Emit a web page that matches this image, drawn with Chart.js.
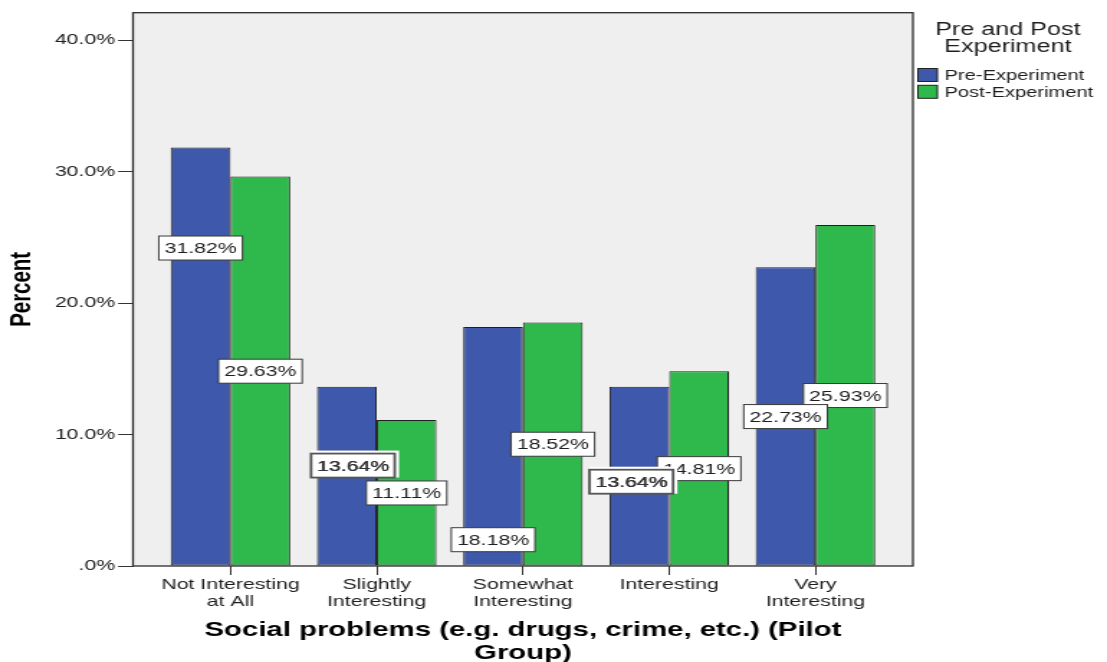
<!DOCTYPE html>
<html>
<head>
<meta charset="utf-8">
<script src="https://cdn.jsdelivr.net/npm/chart.js@4/dist/chart.umd.min.js"></script>
<style>
  html, body { margin: 0; padding: 0; background: #ffffff; overflow: hidden; }
  /* the chart is laid out on a narrower canvas and widened to the page width */
  #wrap { position: absolute; left: 0; top: 0; width: 770px; height: 662px;
          transform-origin: 0 0; transform: scaleX(1.43766); }
</style>
</head>
<body>
<div id="wrap"><canvas id="c" width="770" height="662"></canvas></div>
<script>
// ---- data ----
const categories = [
  ['Not Interesting', 'at All'],
  ['Slightly', 'Interesting'],
  ['Somewhat', 'Interesting'],
  ['Interesting'],
  ['Very', 'Interesting']
];
const seriesNames = ['Pre-Experiment', 'Post-Experiment'];
const preExperiment = [31.82, 13.64, 18.18, 13.64, 22.73];
const postExperiment = [29.63, 11.11, 18.52, 14.81, 25.93];
const yTickValues = [0, 10, 20, 30, 40];
const legendTitle = ['Pre and Post', 'Experiment'];
const xAxisTitle = ['Social problems (e.g. drugs, crime, etc.) (Pilot', 'Group)'];
const yAxisTitle = 'Percent';

// ---- presentation ----
const FONT = "'Liberation Sans', Arial, sans-serif";
const seriesColors = ['#3e58ac', '#2fb84b'];
// where each value box sits, as a fraction of its bar's height, and a small sideways nudge
const labelDepth = [[0.76, 0.56, 0.11, 0.47, 0.5], [0.5, 0.5, 0.5, 0.5, 0.5]];
const labelNudge = [[0, 4.2, 0, -5.6, 0], [0, 0, 0, 0, 0]];
// boxes that were moved to avoid a neighbour get a heavier frame and a white margin
const labelMoved = [[false, true, false, true, false], [false, false, false, false, false]];

const toPoints = vals => vals.map((v, i) => ({ x: i, y: v }));

const framePlugin = {
  id: 'frame',
  beforeDraw(chart) {
    const { ctx, chartArea: a } = chart;
    ctx.save();
    ctx.fillStyle = '#efefef';
    ctx.fillRect(a.left, a.top, a.right - a.left, a.bottom - a.top);
    ctx.restore();
  },
  afterDatasetsDraw(chart) {
    const { ctx, chartArea: a } = chart;
    const yScale = chart.scales.y;
    ctx.save();
    ctx.strokeStyle = '#2b2b2b';
    ctx.lineWidth = 1.3;
    ctx.strokeRect(a.left, a.top, a.right - a.left, a.bottom - a.top);

    // value boxes (post series first so the pre boxes lie on top)
    ctx.font = '14.8px ' + FONT;
    ctx.textAlign = 'center';
    ctx.textBaseline = 'middle';
    [1, 0].forEach(d => {
      const meta = chart.getDatasetMeta(d);
      const pts = chart.data.datasets[d].data;
      meta.data.forEach((bar, i) => {
        const v = pts[i].y;
        const txt = v.toFixed(2) + '%';
        const cx = bar.x + labelNudge[d][i];
        const cy = yScale.getPixelForValue(v * labelDepth[d][i]);
        const w = ctx.measureText(txt).width + 8;
        const h = 24;
        const x0 = cx - w / 2, y0 = cy - h / 2;
        const moved = labelMoved[d][i];
        if (moved) {
          ctx.fillStyle = '#ffffff';
          ctx.fillRect(x0, y0 - 3, w + 3, h + 3);
        }
        ctx.fillStyle = '#ffffff';
        ctx.fillRect(x0, y0, w, h);
        ctx.strokeStyle = moved ? '#555' : '#3a3a3a';
        ctx.lineWidth = moved ? 1.8 : 1;
        ctx.strokeRect(x0, y0, w, h);
        ctx.fillStyle = moved ? '#333' : '#1e1e1e';
        ctx.fillText(txt, cx, cy + 1);
        if (moved) ctx.fillText(txt, cx + 0.4, cy + 1.4);
      });
    });
    ctx.restore();
  },
  afterDraw(chart) {
    const { ctx } = chart;
    ctx.save();
    ctx.fillStyle = '#1e1e1e';
    ctx.textAlign = 'center';
    ctx.textBaseline = 'middle';
    ctx.font = '17.5px ' + FONT;
    legendTitle.forEach((t, i) => ctx.fillText(t, 701, 30 + i * 17));
    ctx.font = '14px ' + FONT;
    ctx.textAlign = 'left';
    seriesNames.forEach((name, i) => {
      const y = 75 + i * 16.8;
      ctx.fillStyle = seriesColors[i];
      ctx.fillRect(638.5, y - 6.5, 13.5, 13);
      ctx.strokeStyle = '#222';
      ctx.lineWidth = 1;
      ctx.strokeRect(638.5, y - 6.5, 13.5, 13);
      ctx.fillStyle = '#1e1e1e';
      ctx.fillText(name, 657, y + 1);
    });
    ctx.restore();
  }
};

new Chart(document.getElementById('c'), {
  type: 'bar',
  data: {
    datasets: [
      { label: seriesNames[0], data: toPoints(preExperiment), backgroundColor: seriesColors[0] },
      { label: seriesNames[1], data: toPoints(postExperiment), backgroundColor: seriesColors[1] }
    ]
  },
  options: {
    responsive: false,
    animation: false,
    events: [],
    layout: { padding: { left: 0, top: 12.7, right: 135, bottom: 0 } },
    datasets: {
      bar: {
        borderColor: '#1f1f1f',
        borderWidth: 1,
        borderSkipped: false,
        categoryPercentage: 0.817,
        barPercentage: 1.0
      }
    },
    plugins: { legend: { display: false }, tooltip: { enabled: false } },
    scales: {
      x: {
        type: 'linear',
        offset: false,
        min: -2 / 3,
        max: categories.length - 1 + 2 / 3,
        afterBuildTicks: s => { s.ticks = categories.map((_, i) => ({ value: i })); },
        afterFit: s => { s.height = 96; },
        grid: { offset: false, drawOnChartArea: false, drawTicks: true, tickLength: 9, color: '#333' },
        border: { display: false },
        ticks: {
          autoSkip: false, maxRotation: 0, padding: 2,
          font: { family: FONT, size: 14.8, lineHeight: 1.12 }, color: '#1e1e1e',
          callback: v => categories[v]
        },
        title: {
          display: true, text: xAxisTitle, color: '#000',
          font: { family: FONT, size: 20.4, weight: 'bold', lineHeight: 1.12 },
          padding: { top: 0, bottom: -3 }
        }
      },
      y: {
        min: 0,
        max: 42.08,
        afterBuildTicks: s => { s.ticks = yTickValues.map(v => ({ value: v })); },
        afterFit: s => { s.width = 92.5; },
        grid: { drawOnChartArea: false, drawTicks: true, tickLength: 10.4, color: '#333' },
        border: { display: false },
        ticks: {
          padding: 2,
          font: { family: FONT, size: 14.8 }, color: '#1e1e1e',
          callback: v => (v === 0 ? '.0' : v.toFixed(1)) + '%'
        },
        title: {
          display: true, text: yAxisTitle, color: '#000',
          font: { family: FONT, size: 20.4, weight: 'bold', lineHeight: 1.2 },
          padding: { top: 2.8, bottom: 0 }
        }
      }
    }
  },
  plugins: [framePlugin]
});
</script>
</body>
</html>
